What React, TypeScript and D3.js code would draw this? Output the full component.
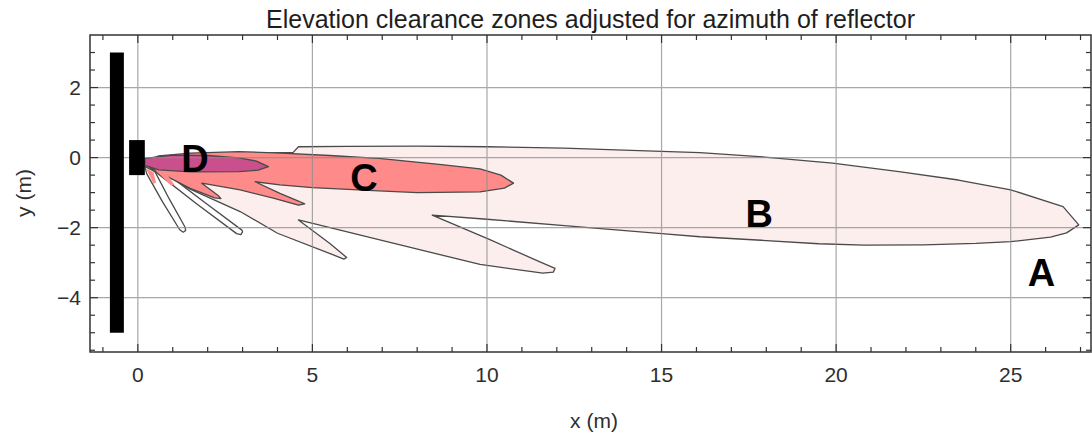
import React from "react";
import * as d3 from "d3";

type Pt = [number, number];

const titleText = "Elevation clearance zones adjusted for azimuth of reflector";
const xLabel = "x (m)";
const yLabel = "y (m)";

const xMajorTicks = [0, 5, 10, 15, 20, 25];
const xMinorTicks = [-1, 1, 2, 3, 4, 6, 7, 8, 9, 11, 12, 13, 14, 16, 17, 18, 19, 21, 22, 23, 24, 26, 27];
const yMajorTicks = [-4, -2, 0, 2];
const yMinorTicks = [-5.5, -5, -4.5, -3.5, -3, -2.5, -1.5, -1, -0.5, 0.5, 1, 1.5, 2.5, 3];

// Zone B (light pink): main lobe + two side lobes
const zoneB: Pt[] = [
  [0.2, -0.15], [1.5, 0.05], [3, 0.12], [4.45, 0.15], [4.6, 0.31], [6, 0.32], [8, 0.33],
  [10, 0.31], [12.2, 0.27], [15, 0.18], [16.1, 0.14], [17.8, 0.03], [19.9, -0.16],
  [21.8, -0.4], [23.5, -0.64], [25, -0.92], [26.5, -1.4], [26.95, -1.92], [26.6, -2.15],
  [26.14, -2.27], [25, -2.4], [24, -2.45], [22.5, -2.49], [20.8, -2.5], [19.5, -2.46],
  [17.85, -2.36], [16.1, -2.26], [15, -2.17], [12.3, -1.95], [10, -1.76], [8.43, -1.64],
  [10.1, -2.35], [11.5, -2.97], [11.95, -3.16], [11.9, -3.27], [11.6, -3.3], [9.8, -3.05],
  [6.93, -2.35], [4.6, -1.78],
  [5.5, -2.45], [5.98, -2.85], [5.9, -2.9], [5.6, -2.78], [4.0, -2.16], [2.93, -1.54],
  [1.5, -0.9], [0.6, -0.45],
];

// Thin outlined side lobes (unfilled)
const lobeA: Pt[] = [
  [0.2, -0.25], [0.25, -0.45], [0.7, -1.25], [1.2, -2.06], [1.3, -2.13], [1.37, -2.08],
  [1.35, -1.98], [0.9, -1.18], [0.49, -0.4],
];
const lobeB: Pt[] = [
  [0.3, -0.25], [0.63, -0.5], [1.7, -1.33], [2.83, -2.17], [2.95, -2.2], [3.0, -2.12],
  [2.98, -2.07], [1.9, -1.27], [0.82, -0.45], [0.4, -0.2],
];

// Zone C (salmon)
const zoneC: Pt[] = [
  [0.2, -0.12], [0.6, 0.05], [1.5, 0.13], [2.9, 0.17], [4.1, 0.13], [5.5, 0.06], [6.9, -0.02],
  [8.7, -0.2], [9.8, -0.32], [10.4, -0.5], [10.76, -0.73], [10.5, -0.87], [9.8, -0.98],
  [8, -1.0], [6.9, -0.95], [5, -0.86], [4.07, -0.78], [3.36, -0.69],
  [4.07, -1.02], [4.6, -1.24], [4.78, -1.32], [4.6, -1.36], [3.88, -1.16], [2.93, -0.92],
  [1.83, -0.73],
  [2.3, -1.08], [2.38, -1.17], [2.2, -1.15], [1.5, -0.88], [0.8, -0.52], [0.3, -0.25],
];
const sliverC1: Pt[] = [[0.22, -0.3], [0.3, -0.45], [0.45, -0.75], [0.52, -0.72], [0.45, -0.42]];
const sliverC2: Pt[] = [[0.45, -0.3], [0.7, -0.55], [0.95, -0.8], [1.05, -0.78], [0.85, -0.5]];

// Zone D (magenta)
const zoneD: Pt[] = [
  [0.2, -0.02], [1.0, 0.07], [2.0, 0.06], [2.9, -0.01], [3.4, -0.1], [3.74, -0.26],
  [3.45, -0.36], [2.9, -0.4], [1.5, -0.41], [0.6, -0.35], [0.2, -0.22],
];

// Black structures: [x0, x1, y0, y1]
const wallRect = [-0.8, -0.4, -5, 3];
const reflectorRect = [-0.25, 0.2, -0.5, 0.5];

// Zone letters
const zoneLetters = ["A", "B", "C", "D"];
const zoneLetterX = [25.88, 17.8, 6.48, 1.64];
const zoneLetterY = [-3.29, -1.58, -0.57, -0.01];

const W = 1092;
const H = 438;
const L = 90, R = 1091, T = 35, B = 352;

const xScale = d3.scaleLinear().domain([-1.37, 27.3]).range([L, R]);
const yScale = d3.scaleLinear().domain([-5.55, 3.5]).range([B, T]);

const lineGen = d3
  .line<Pt>()
  .x((d) => xScale(d[0]))
  .y((d) => yScale(d[1]));

const closed = (pts: Pt[]) => (lineGen(pts) || "") + "Z";

const FONT = "'Liberation Sans', Arial, Helvetica, sans-serif";
const OUTLINE = "#4a4a4a";
const TEXT = "#2e2e2e";

export default function App() {
  const rectEl = (r: number[], key: string) => (
    <rect
      key={key}
      x={xScale(r[0])}
      y={yScale(r[3])}
      width={xScale(r[1]) - xScale(r[0])}
      height={yScale(r[2]) - yScale(r[3])}
      fill="#000"
    />
  );

  return (
    <div style={{ position: "absolute", left: 0, top: 0 }}>
      <svg width={W} height={H} style={{ display: "block", background: "#fff" }}>
        <text x={(L + R) / 2} y={28} textAnchor="middle" fontFamily={FONT} fontSize={25} fill="#1e1e1e">
          {titleText}
        </text>

        {/* zones */}
        <path d={closed(zoneB)} fill="#fdeeee" stroke={OUTLINE} strokeWidth={1.3} strokeLinejoin="round" />
        <path d={closed(lobeA)} fill="#ffffff" stroke={OUTLINE} strokeWidth={1.3} strokeLinejoin="round" />
        <path d={closed(lobeB)} fill="#ffffff" stroke={OUTLINE} strokeWidth={1.3} strokeLinejoin="round" />
        <path d={closed(zoneC)} fill="#ff8a8a" stroke={OUTLINE} strokeWidth={1.3} strokeLinejoin="round" />
        <path d={closed(sliverC1)} fill="#ff8a8a" stroke="none" />
        <path d={closed(sliverC2)} fill="#ff8a8a" stroke="none" />
        <path d={closed(zoneD)} fill="#c9508d" stroke={OUTLINE} strokeWidth={1.3} strokeLinejoin="round" />

        {/* grid */}
        <g stroke="#8c8c8c" strokeWidth={1.2} opacity={0.75}>
          {xMajorTicks.map((t) => (
            <line key={"gx" + t} x1={xScale(t)} x2={xScale(t)} y1={T} y2={B} />
          ))}
          {yMajorTicks.map((t) => (
            <line key={"gy" + t} x1={L} x2={R} y1={yScale(t)} y2={yScale(t)} />
          ))}
        </g>

        {/* black structures */}
        {rectEl(wallRect, "wall")}
        {rectEl(reflectorRect, "refl")}

        {/* frame */}
        <rect x={L} y={T} width={R - L} height={B - T} fill="none" stroke="#333" strokeWidth={1.5} />

        {/* ticks */}
        <g stroke="#333" strokeWidth={1.2}>
          {xMajorTicks.map((t) => (
            <g key={"xt" + t}>
              <line x1={xScale(t)} x2={xScale(t)} y1={B} y2={B - 8} />
              <line x1={xScale(t)} x2={xScale(t)} y1={T} y2={T + 8} />
            </g>
          ))}
          {xMinorTicks.map((t) => (
            <g key={"xm" + t}>
              <line x1={xScale(t)} x2={xScale(t)} y1={B} y2={B - 5} />
              <line x1={xScale(t)} x2={xScale(t)} y1={T} y2={T + 5} />
            </g>
          ))}
          {yMajorTicks.map((t) => (
            <g key={"yt" + t}>
              <line x1={L} x2={L + 8} y1={yScale(t)} y2={yScale(t)} />
              <line x1={R} x2={R - 8} y1={yScale(t)} y2={yScale(t)} />
            </g>
          ))}
          {yMinorTicks.map((t) => (
            <g key={"ym" + t}>
              <line x1={L} x2={L + 5} y1={yScale(t)} y2={yScale(t)} />
              <line x1={R} x2={R - 5} y1={yScale(t)} y2={yScale(t)} />
            </g>
          ))}
        </g>

        {/* tick labels */}
        <g fontFamily={FONT} fontSize={21} fill={TEXT}>
          {xMajorTicks.map((t) => (
            <text key={"xl" + t} x={xScale(t)} y={382} textAnchor="middle">
              {t}
            </text>
          ))}
          {yMajorTicks.map((t) => (
            <text key={"yl" + t} x={L - 9} y={yScale(t) + 7.5} textAnchor="end">
              {t < 0 ? "\u2212" + Math.abs(t) : String(t)}
            </text>
          ))}
        </g>

        {/* axis labels */}
        <text x={594} y={428} textAnchor="middle" fontFamily={FONT} fontSize={21} fill={TEXT}>
          {xLabel}
        </text>
        <text
          transform={`translate(31,193) rotate(-90)`}
          textAnchor="middle"
          fontFamily={FONT}
          fontSize={21}
          fill={TEXT}
        >
          {yLabel}
        </text>

        {/* zone letters */}
        <g fontFamily={FONT} fontSize={38} fontWeight="bold" fill="#000">
          {zoneLetters.map((s, i) => (
            <text key={s} x={xScale(zoneLetterX[i])} y={yScale(zoneLetterY[i]) + 13.6} textAnchor="middle">
              {s}
            </text>
          ))}
        </g>
      </svg>
    </div>
  );
}
